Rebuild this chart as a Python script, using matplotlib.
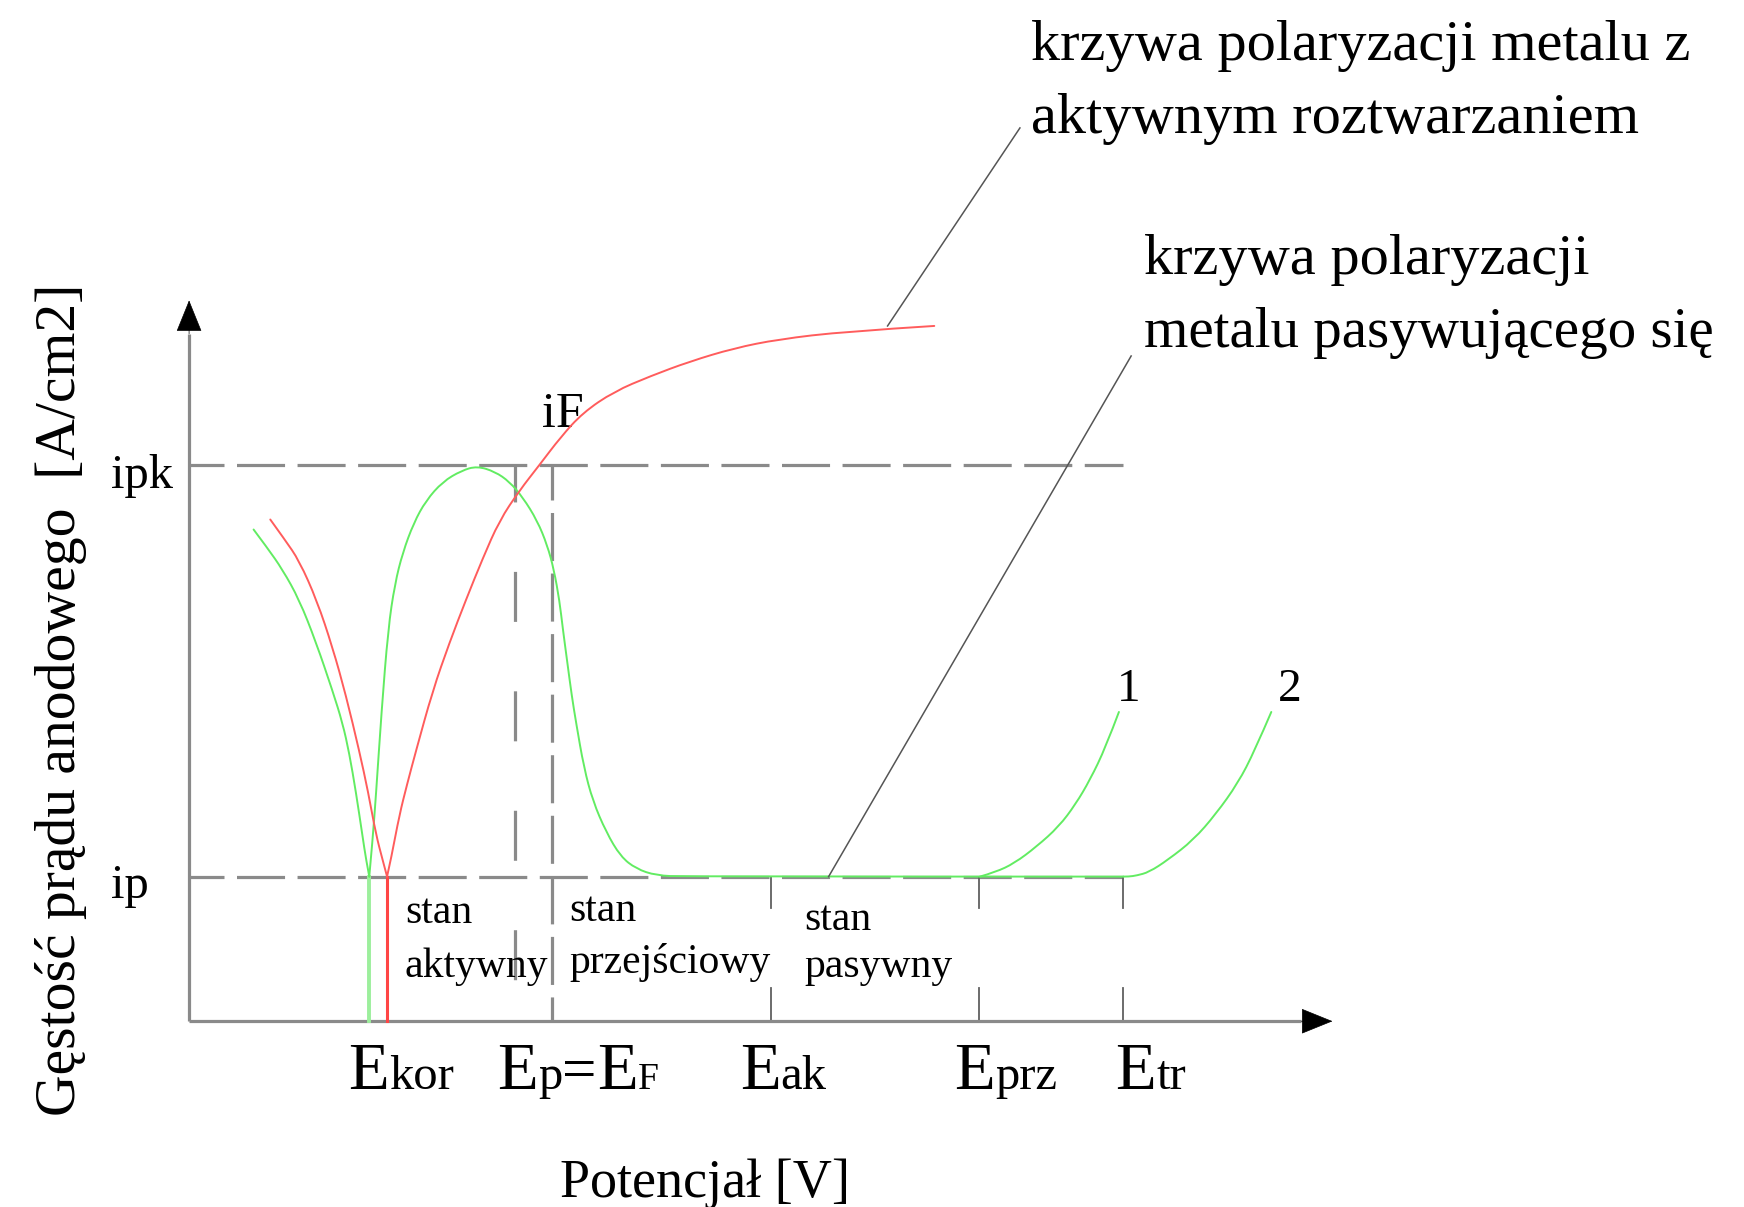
import matplotlib
matplotlib.use("Agg")
import matplotlib.pyplot as plt
from matplotlib.path import Path
from matplotlib.patches import PathPatch

plt.rcParams['font.family'] = ['Liberation Serif', 'DejaVu Serif']
plt.rcParams['lines.scale_dashes'] = False

# characteristic potentials (arbitrary units along the potential axis)
E_kor_pas = 162
E_kor_act = 178
E_p = 293
E_F = 326
E_ak = 523
E_prz = 710
E_tr = 840
E_axis_end = 1028

# characteristic current densities (arbitrary units)
i_p = 130
i_pk = 500
i_axis_end = 648

# passivating metal: cathodic branch
pas_cath_E = [58, 70, 84, 99, 114, 129, 138, 144, 150, 156, 159, 162]
pas_cath_i = [442, 426, 406, 379, 341, 297, 268, 241, 206, 166, 146, 130]

# passivating metal: anodic branch (active peak, transition, passive plateau)
pas_an_E = [162, 165, 168, 173, 179, 185, 192, 202, 213, 228, 245, 259, 275, 288,
            300, 313, 322, 328, 333, 336, 340, 344, 348, 355, 363, 375, 388, 402,
            420, 445, 840]
pas_an_i = [130, 163, 203, 278, 353, 393, 421, 448, 468, 485, 495, 499, 494, 485,
            471, 450, 428, 406, 378, 353, 323, 293, 268, 228, 198, 170, 148, 137,
            131, 130, 130]

# transpassive branches
tr1_E = [711, 725, 742, 762, 782, 797, 810, 824, 836]
tr1_i = [130, 134, 142, 157, 175, 195, 217, 246, 278]
tr2_E = [840, 845, 852, 863, 880, 903, 923, 943, 958, 973]
tr2_i = [130, 130, 131, 134, 145, 163, 186, 214, 243, 278]

# actively dissolving metal
act_cath_E = [73, 86, 99, 115, 129, 141, 153, 161, 168, 174, 178]
act_cath_i = [451, 433, 414, 378, 336, 293, 243, 206, 168, 145, 130]
act_an_E = [178, 182, 189, 196, 204, 219, 234, 249, 264, 279, 297, 315, 334, 354,
            382, 415, 450, 490, 530, 590, 670]
act_an_i = [130, 148, 185, 213, 243, 297, 340, 379, 416, 450, 477, 500, 525, 547,
            566, 580, 593, 605, 613, 620, 625]

# leader lines of the curve descriptions
lead_act_E = [628, 747]
lead_act_i = [625, 803]
lead_pas_E = [575, 847]
lead_pas_i = [130, 598]

GREEN = '#62ec62'
GREEN_LIGHT = '#9cef9c'
RED = '#ff5c5c'
GREY = '#8a8a8a'

fig = plt.figure(figsize=(17.44, 12.07), dpi=100)
ax = fig.add_axes([0, 0, 1, 1])
ax.set_xlim(-170, 1398)
ax.set_ylim(-167, 918)
ax.axis('off')


def smooth_curve(xs, ys, color, lw=1.4, z=4):
    """Draw a polyline as a chain of quadratic Bezier segments (smooth look)."""
    pts = list(zip(xs, ys))
    verts = [pts[0]]
    codes = [Path.MOVETO]
    n = len(pts)
    if n == 2:
        verts.append(pts[1])
        codes.append(Path.LINETO)
    else:
        for k in range(1, n - 2):
            mid = ((pts[k][0] + pts[k + 1][0]) / 2, (pts[k][1] + pts[k + 1][1]) / 2)
            verts += [pts[k], mid]
            codes += [Path.CURVE3, Path.CURVE3]
        verts += [pts[n - 2], pts[n - 1]]
        codes += [Path.CURVE3, Path.CURVE3]
    ax.add_patch(PathPatch(Path(verts, codes), fill=False, edgecolor=color,
                           lw=lw, zorder=z, capstyle='round', joinstyle='round'))


# reference levels and potentials
ax.plot([0, E_tr], [i_pk, i_pk], color=GREY, lw=2.3, ls=(9.4, (34.6, 9.0)), zorder=1)
ax.plot([0, E_tr], [i_p, i_p], color=GREY, lw=2.3, ls=(9.4, (34.6, 9.0)), zorder=1)
ax.plot([E_p, E_p], [i_pk, 0], color=GREY, lw=2.3, ls=(9.4, (36.0, 50.0)), zorder=1)
ax.plot([E_F, E_F], [i_pk, 0], color=GREY, lw=2.3, ls=(9.4, (34.6, 9.0)), zorder=1)

# short ticks at the passive potentials
for e in (E_ak, E_prz, E_tr):
    ax.plot([e, e], [i_p, i_p - 28], color='#606060', lw=1.3, zorder=1)
    ax.plot([e, e], [0, 30], color='#606060', lw=1.3, zorder=1)

# axes with arrow heads
ax.plot([0, 0], [0, i_axis_end - 30], color=GREY, lw=2.3, zorder=2, solid_capstyle='butt')
ax.plot([0, E_axis_end - 28], [0, 0], color=GREY, lw=2.3, zorder=2, solid_capstyle='butt')
ax.annotate('', xy=(0, i_axis_end), xytext=(0, i_axis_end - 30),
            arrowprops=dict(arrowstyle='-|>,head_length=2.1,head_width=0.85',
                            color='black', lw=0.5, shrinkA=0, shrinkB=0,
                            mutation_scale=10))
ax.annotate('', xy=(E_axis_end, 0), xytext=(E_axis_end - 28, 0),
            arrowprops=dict(arrowstyle='-|>,head_length=2.1,head_width=0.85',
                            color='black', lw=0.5, shrinkA=0, shrinkB=0,
                            mutation_scale=10))

# polarization curves
ax.plot([E_kor_pas, E_kor_pas], [i_p, 0], color=GREEN_LIGHT, lw=2.8, zorder=3)
ax.plot([E_kor_act, E_kor_act], [i_p, 0], color='#ff4545', lw=2.2, zorder=3)
smooth_curve(pas_cath_E, pas_cath_i, GREEN)
smooth_curve(pas_an_E, pas_an_i, GREEN)
smooth_curve(tr1_E, tr1_i, GREEN)
smooth_curve(tr2_E, tr2_i, GREEN)
smooth_curve(act_cath_E, act_cath_i, RED)
smooth_curve(act_an_E, act_an_i, RED)

ax.plot(lead_act_E, lead_act_i, color='#555555', lw=1.1, zorder=4)
ax.plot(lead_pas_E, lead_pas_i, color='#555555', lw=1.1, zorder=4)

# curve descriptions
ax.text(757, 864, 'krzywa polaryzacji metalu z', fontsize=42, va='baseline', ha='left')
ax.text(757, 798, 'aktywnym roztwarzaniem', fontsize=42, va='baseline', ha='left')
ax.text(859, 672, 'krzywa polaryzacji', fontsize=42, va='baseline', ha='left')
ax.text(859, 606, 'metalu pasywującego się', fontsize=41, va='baseline', ha='left')

# current levels
ax.text(-70, 479, 'ipk', fontsize=35, va='baseline', ha='left')
ax.text(-70, 111, 'ip', fontsize=35, va='baseline', ha='left')
ax.text(317, 534, 'iF', fontsize=36, va='baseline', ha='left')

ax.text(845, 288, '1', fontsize=34, va='baseline', ha='center')
ax.text(990, 288, '2', fontsize=34, va='baseline', ha='center')

# regions
ax.text(194, 88, 'stan', fontsize=30, va='baseline', ha='left')
ax.text(194, 40, 'aktywny', fontsize=30, va='baseline', ha='left')
ax.text(342, 90, 'stan', fontsize=30, va='baseline', ha='left')
ax.text(342, 43, 'przejściowy', fontsize=30, va='baseline', ha='left')
ax.text(553, 82, 'stan', fontsize=30, va='baseline', ha='left')
ax.text(553, 40, 'pasywny', fontsize=30, va='baseline', ha='left')

# potential labels: large E followed by smaller index letters
BIG = 48
SMALL = 35
base = -61


def chain(x, parts):
    prev = None
    for txt, size in parts:
        if prev is None:
            prev = ax.text(x, base, txt, fontsize=size, va='baseline', ha='left')
        else:
            prev = ax.annotate(txt, xy=(1, base), xycoords=(prev, 'data'),
                               fontsize=size, va='baseline', ha='left')


chain(143, [('E', BIG), ('kor', SMALL)])
chain(277, [('E', BIG), ('p', SMALL), ('=', 44), ('E', BIG), ('F', 27)])
chain(495, [('E', BIG), ('ak', SMALL)])
chain(688, [('E', BIG), ('prz', SMALL)])
chain(833, [('E', BIG), ('tr', SMALL)])

ax.text(464, -158, 'Potencjał [V]', fontsize=39, va='baseline', ha='center')
ax.text(-103, 289, 'Gęstość prądu anodowego  [A/cm2]', fontsize=41.5, rotation=90,
        rotation_mode='anchor', va='baseline', ha='center')

fig.savefig('out.png', dpi=100)
